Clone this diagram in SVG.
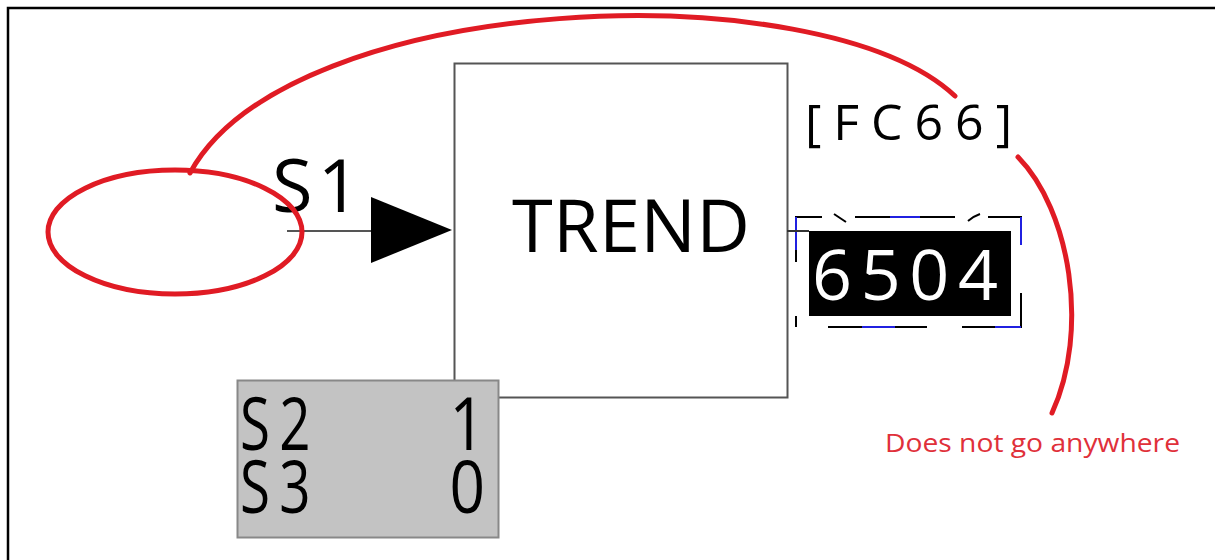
<svg xmlns="http://www.w3.org/2000/svg" width="1215" height="560" viewBox="0 0 1215 560">
<style>
.lbl{font-family:"Open Sans","DejaVu Sans",sans-serif;fill:#000}
.red{fill:none;stroke:#e01b24;stroke-width:5;stroke-linecap:round}
</style>
<rect width="1215" height="560" fill="#fff"/>
<path d="M8,560 V8 H1215" fill="none" stroke="#000" stroke-width="2.5"/>
<g id="trend">
<rect x="454.5" y="63.5" width="333" height="334" fill="#fff" stroke="#555" stroke-width="2"/>
<text class="lbl" x="512" y="252" font-size="74" textLength="238" lengthAdjust="spacing">TREND</text>
</g>
<g id="s2s3">
<rect x="237.5" y="380.5" width="261" height="157" fill="#c3c3c3" stroke="#888" stroke-width="2"/>
<text class="lbl" font-size="74" transform="translate(240,450) scale(0.74,1)"><tspan x="0" y="0">S</tspan><tspan x="53" y="0">2</tspan><tspan x="0" y="63">S</tspan><tspan x="53" y="63">3</tspan></text>
<text class="lbl" font-size="74" text-anchor="end" transform="translate(485,450) scale(0.84,1)"><tspan x="0" y="0">1</tspan><tspan x="0" y="63">0</tspan></text>
</g>
<g id="s1">
<text class="lbl" x="272" y="212" font-size="74" textLength="88" lengthAdjust="spacing">S1</text>
</g>
<g id="fc66">
<text class="lbl" x="805" y="140" font-size="50" textLength="207" lengthAdjust="spacing">[FC66]</text>
</g>
<g id="value">
<g fill="none" stroke-width="2">
<path d="M795,217 H822 M834,214 Q840,218 846,222 M855,217 H890 M920,217 H955 M968,221 Q974,216 980,214 M988,217 H1021 V228 M1021,293 V327 H962 M927,327 H895 M862,327 H828 M796,327 V316 M796,262 V250" stroke="#000"/>
<path d="M890,217 H920 M1021,217 V245 M1021,327 H995 M895,327 H862 M796,217 V250" stroke="#2020e0"/>
</g>
<rect x="809" y="231" width="202" height="85" fill="#000"/>
<text x="812" y="300" font-size="70" fill="#fff" font-family="Open Sans,DejaVu Sans,sans-serif" textLength="186" lengthAdjust="spacing">6504</text>
</g>
<g id="connectors">
<line x1="787" y1="231" x2="809" y2="231" stroke="#333" stroke-width="2"/>
<line x1="287" y1="231" x2="372" y2="231" stroke="#555" stroke-width="2"/>
<polygon points="371,197 452,230 371,263" fill="#000"/>
</g>
<g id="annotations">
<ellipse class="red" cx="175" cy="232" rx="127" ry="62"/>
<path class="red" d="M190,173 C290,-10 820,-30 955,96"/>
<path class="red" d="M1018,157 C1070,210 1090,330 1052,413"/>
<text x="885" y="452" font-size="26" fill="#e0303a" font-family="Open Sans,Liberation Sans,sans-serif" textLength="295" lengthAdjust="spacingAndGlyphs">Does not go anywhere</text>
</g>
</svg>
